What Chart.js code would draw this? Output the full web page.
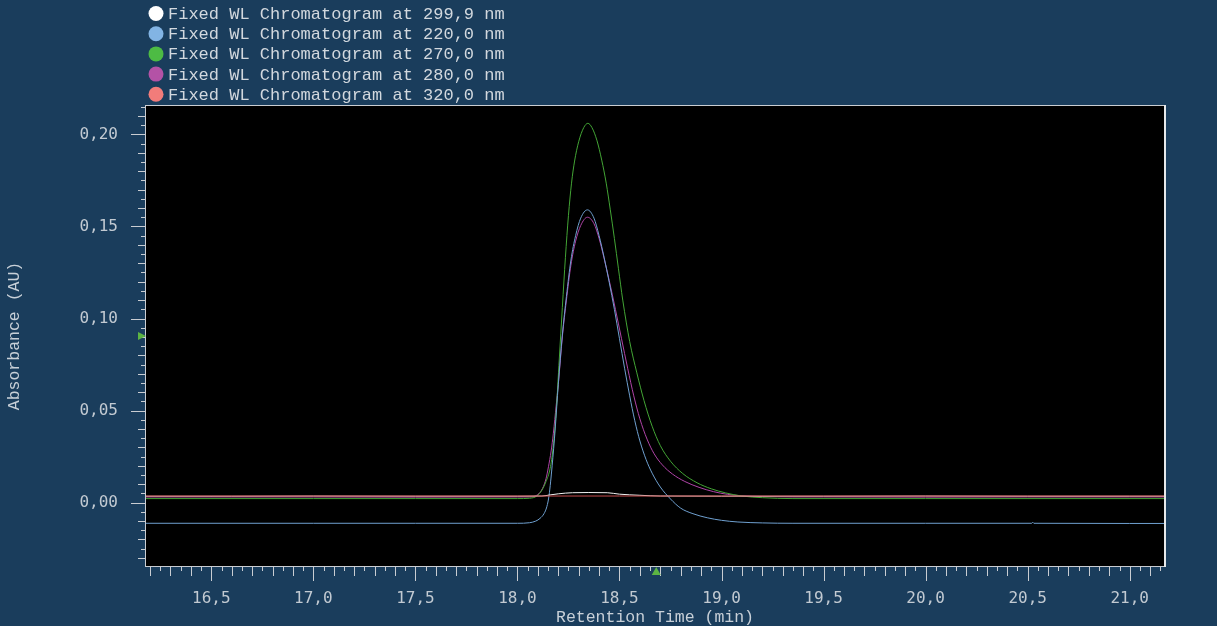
<!DOCTYPE html>
<html>
<head>
<meta charset="utf-8">
<script src="https://cdn.jsdelivr.net/npm/chart.js@4.4.1/dist/chart.umd.min.js"></script>
<style>
  html, body { margin: 0; padding: 0; background: #1a3d5c; overflow: hidden; }
  canvas { display: block; }
</style>
</head>
<body>
<canvas id="chrom" width="1217" height="626"></canvas>
<script>
// Fixed-wavelength UV chromatograms, absorbance vs retention time
const seriesLabels = [
  'Fixed WL Chromatogram at 299,9 nm',
  'Fixed WL Chromatogram at 220,0 nm',
  'Fixed WL Chromatogram at 270,0 nm',
  'Fixed WL Chromatogram at 280,0 nm',
  'Fixed WL Chromatogram at 320,0 nm'
];
const lineColors   = ['#f2f2f2', '#6fa0d0', '#43a535', '#b044a8', '#c44c4c'];
const legendColors = ['#ffffff', '#82b4e4', '#4dbb44', '#b452a6', '#f27c7a'];
// drawing order: lower numbers are painted last (on top)
const drawOrder    = [1, 2, 3, 4, 0];

const xTicks = [16.5, 17.0, 17.5, 18.0, 18.5, 19.0, 19.5, 20.0, 20.5, 21.0];
const yTicks = [0.00, 0.05, 0.10, 0.15, 0.20];
const xRange = [16.18, 21.168];
const yRange = [-0.0344, 0.2154];

// wavelength cursor markers (absorbance on the y axis, time on the x axis)
const cursorAbs = 0.0905;
const cursorTime = 18.68;

// 299,9 nm
const t299 = [16.18, 16.6, 17.0, 17.5, 18.0, 18.12, 18.16, 18.2, 18.27, 18.35, 18.44, 18.5, 18.6, 18.7, 19.0, 19.5, 20.0, 20.5, 21.0, 21.168];
const a299 = [0.0035, 0.0035, 0.0036, 0.0035, 0.0035, 0.0036, 0.0042, 0.0048, 0.0054, 0.0055, 0.0054, 0.0046, 0.0040, 0.0036, 0.0035, 0.0035, 0.0036, 0.0035, 0.0035, 0.0035];

// 220,0 nm
const t220 = [16.18, 17.0, 17.5, 18.0, 18.059, 18.09, 18.111, 18.13, 18.144, 18.155, 18.17, 18.185, 18.20, 18.22, 18.24, 18.262, 18.285, 18.31, 18.343, 18.375, 18.40, 18.425, 18.45, 18.475, 18.50, 18.525, 18.55, 18.575, 18.60, 18.63, 18.66, 18.70, 18.75, 18.80, 18.86, 18.93, 19.0, 19.08, 19.2, 19.35, 20.0, 20.52, 20.525, 20.53, 21.0, 21.168];
const a220 = [-0.0112, -0.0112, -0.0112, -0.0112, -0.0109, -0.0100, -0.0085, -0.0060, -0.0022, 0.0040, 0.0200, 0.0400, 0.0640, 0.0910, 0.1120, 0.1317, 0.1450, 0.1545, 0.1590, 0.1545, 0.1450, 0.1330, 0.1195, 0.1050, 0.0890, 0.0730, 0.0580, 0.0445, 0.0335, 0.0235, 0.0160, 0.0085, 0.0020, -0.0030, -0.0060, -0.0082, -0.0096, -0.0105, -0.0110, -0.0112, -0.0112, -0.0112, -0.0106, -0.0112, -0.0113, -0.0113];

// 270,0 nm
const t270 = [16.18, 17.0, 17.5, 18.0, 18.06, 18.095, 18.12, 18.14, 18.16, 18.175, 18.19, 18.205, 18.22, 18.235, 18.25, 18.265, 18.28, 18.30, 18.325, 18.345, 18.365, 18.39, 18.413, 18.435, 18.455, 18.475, 18.495, 18.516, 18.55, 18.585, 18.62, 18.66, 18.70, 18.75, 18.81, 18.88, 18.95, 19.02, 19.1, 19.2, 19.35, 20.0, 21.168];
const a270 = [0.0022, 0.0022, 0.0022, 0.0022, 0.0024, 0.0036, 0.0068, 0.0115, 0.0185, 0.0300, 0.0500, 0.0780, 0.1060, 0.1330, 0.1560, 0.1735, 0.1855, 0.1960, 0.2037, 0.2060, 0.2037, 0.1965, 0.1860, 0.1735, 0.1590, 0.1435, 0.1270, 0.1100, 0.0875, 0.0705, 0.0555, 0.0415, 0.0310, 0.0225, 0.0158, 0.0108, 0.0075, 0.0053, 0.0036, 0.0027, 0.0022, 0.0022, 0.0022];

// 280,0 nm
const t280 = [16.18, 17.0, 17.5, 18.0, 18.06, 18.087, 18.11, 18.127, 18.14, 18.152, 18.165, 18.176, 18.19, 18.20, 18.22, 18.24, 18.262, 18.285, 18.31, 18.343, 18.375, 18.40, 18.425, 18.45, 18.48, 18.51, 18.54, 18.57, 18.60, 18.635, 18.67, 18.71, 18.76, 18.82, 18.89, 18.96, 19.03, 19.1, 19.2, 19.35, 19.5, 20.0, 20.5, 21.0, 21.168];
const a280 = [0.0031, 0.0031, 0.0030, 0.0031, 0.0031, 0.0036, 0.0055, 0.0087, 0.0130, 0.0195, 0.0280, 0.0377, 0.0530, 0.0640, 0.0900, 0.1100, 0.1290, 0.1420, 0.1505, 0.1550, 0.1515, 0.1435, 0.1325, 0.1205, 0.1050, 0.0890, 0.0730, 0.0580, 0.0455, 0.0345, 0.0265, 0.0205, 0.0155, 0.0115, 0.0083, 0.0060, 0.0045, 0.0037, 0.0033, 0.0031, 0.0031, 0.0030, 0.0031, 0.0031, 0.0031];

// 320,0 nm
const t320 = [16.18, 16.5, 17.0, 17.5, 18.0, 18.5, 19.0, 19.5, 20.0, 20.5, 21.0, 21.168];
const a320 = [0.0036, 0.0036, 0.0036, 0.0036, 0.0036, 0.0036, 0.0036, 0.0036, 0.0036, 0.0036, 0.0036, 0.0036];

const seriesTimes = [t299, t220, t270, t280, t320];
const seriesAbs   = [a299, a220, a270, a280, a320];

const datasets = seriesLabels.map((label, i) => ({
  label,
  data: seriesTimes[i].map((t, k) => ({ x: t, y: seriesAbs[i][k] })),
  borderColor: lineColors[i],
  borderWidth: 1,
  pointRadius: 0,
  fill: false,
  order: drawOrder[i],
  cubicInterpolationMode: 'monotone'
}));

const comma = (v, d) => v.toFixed(d).replace('.', ',');

const MONO_TEXT = '"Liberation Mono", "DejaVu Sans Mono", monospace';
const MONO_TICK = '"DejaVu Sans Mono", monospace';

// black plot area, frame, tick marks, cursor markers and legend
const plotDecor = {
  id: 'plotDecor',
  beforeDatasetsDraw(chart) {
    const { ctx, chartArea: a } = chart;
    ctx.save();
    ctx.fillStyle = '#000000';
    ctx.fillRect(a.left, a.top, a.right - a.left, a.bottom - a.top);
    ctx.restore();
  },
  afterDatasetsDraw(chart) {
    const { ctx, chartArea: a } = chart;
    const xs = chart.scales.x, ys = chart.scales.y;
    ctx.save();

    // frame
    ctx.strokeStyle = '#c9cdd2';
    ctx.lineWidth = 1;
    ctx.strokeRect(a.left - 0.5, a.top - 0.5, a.right - a.left + 1, a.bottom - a.top + 1);
    ctx.strokeStyle = '#e6e8ea';
    ctx.lineWidth = 2;
    ctx.beginPath();
    ctx.moveTo(a.right + 1, a.top - 1);
    ctx.lineTo(a.right + 1, a.bottom + 1);
    ctx.stroke();

    // x tick marks every 0,05 min
    ctx.strokeStyle = '#c9cdd2';
    ctx.lineWidth = 1;
    ctx.beginPath();
    for (let i = Math.ceil(xs.min / 0.05); i * 0.05 <= xs.max + 1e-9; i++) {
      const px = Math.round(xs.getPixelForValue(i * 0.05)) + 0.5;
      const len = i % 10 === 0 ? 15 : (i % 2 === 0 ? 10 : 5);
      ctx.moveTo(px, a.bottom);
      ctx.lineTo(px, a.bottom + len);
    }
    // y tick marks every 0,005 AU
    for (let i = Math.ceil(ys.min / 0.005); i * 0.005 <= ys.max + 1e-9; i++) {
      const py = Math.round(ys.getPixelForValue(i * 0.005)) + 0.5;
      const len = i % 10 === 0 ? 15 : (i % 2 === 0 ? 8 : 5);
      ctx.moveTo(a.left, py);
      ctx.lineTo(a.left - len, py);
    }
    ctx.stroke();

    // cursor markers
    ctx.fillStyle = '#5cb443';
    const cy = ys.getPixelForValue(cursorAbs);
    ctx.beginPath();
    ctx.moveTo(a.left, cy);
    ctx.lineTo(a.left - 8, cy - 4);
    ctx.lineTo(a.left - 8, cy + 4);
    ctx.closePath();
    ctx.fill();
    const cx = xs.getPixelForValue(cursorTime);
    ctx.beginPath();
    ctx.moveTo(cx, a.bottom + 1);
    ctx.lineTo(cx - 4.5, a.bottom + 9);
    ctx.lineTo(cx + 4.5, a.bottom + 9);
    ctx.closePath();
    ctx.fill();

    // legend
    ctx.font = '17px ' + MONO_TEXT;
    ctx.textBaseline = 'middle';
    ctx.textAlign = 'left';
    chart.data.datasets.forEach((ds, i) => {
      const y = 13.5 + i * 20.2;
      ctx.fillStyle = legendColors[i];
      ctx.beginPath();
      ctx.arc(156, y, 7.5, 0, Math.PI * 2);
      ctx.fill();
      ctx.fillStyle = '#d2d8de';
      ctx.fillText(ds.label, 168, y + 1);
    });
    ctx.restore();
  }
};

new Chart(document.getElementById('chrom'), {
  type: 'line',
  data: { datasets },
  plugins: [plotDecor],
  options: {
    responsive: false,
    animation: false,
    devicePixelRatio: 1,
    layout: { padding: { left: 0, top: 106, right: 53, bottom: 0 } },
    plugins: { legend: { display: false }, tooltip: { enabled: false } },
    scales: {
      x: {
        type: 'linear',
        position: 'bottom',
        min: xRange[0],
        max: xRange[1],
        afterBuildTicks: s => { s.ticks = xTicks.map(v => ({ value: v })); },
        afterFit: s => { s.height = 60; },
        grid: { display: false, drawTicks: false },
        border: { display: false },
        ticks: {
          padding: 23,
          maxRotation: 0,
          autoSkip: false,
          color: '#c2cad2',
          font: { family: MONO_TICK, size: 16 },
          callback: v => comma(v, 1)
        },
        title: {
          display: true,
          text: 'Retention Time (min)',
          color: '#c8d0d8',
          font: { family: MONO_TEXT, size: 16.5, lineHeight: 1 },
          padding: { top: 0, bottom: 0 }
        }
      },
      y: {
        type: 'linear',
        position: 'left',
        min: yRange[0],
        max: yRange[1],
        afterBuildTicks: s => { s.ticks = yTicks.map(v => ({ value: v })); },
        afterFit: s => { s.width = 146; },
        grid: { display: false, drawTicks: false },
        border: { display: false },
        ticks: {
          padding: 28,
          autoSkip: false,
          color: '#c2cad2',
          font: { family: MONO_TICK, size: 16 },
          callback: v => comma(v, 2)
        },
        title: {
          display: true,
          text: 'Absorbance (AU)',
          color: '#c8d0d8',
          font: { family: MONO_TEXT, size: 16.5, lineHeight: 1 },
          padding: { top: 6, bottom: 0 }
        }
      }
    }
  }
});
</script>
</body>
</html>
